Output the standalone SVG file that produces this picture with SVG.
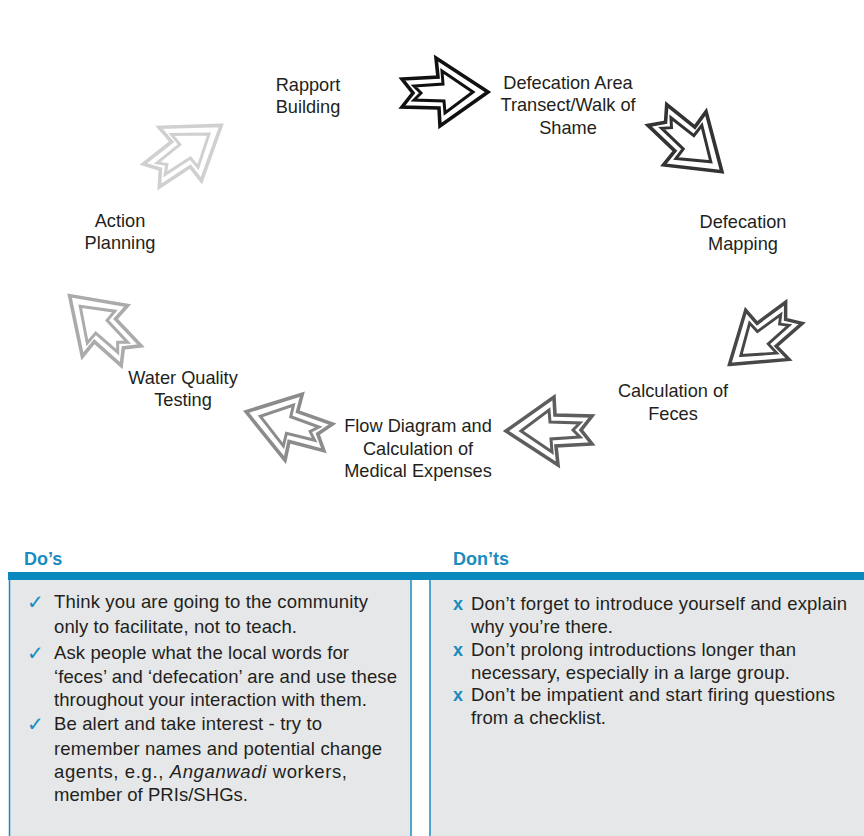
<svg xmlns="http://www.w3.org/2000/svg" xmlns:xlink="http://www.w3.org/1999/xlink" width="864" height="836" viewBox="0 0 864 836">
  <style>
    .lbl { font-family: "Liberation Sans", Arial, sans-serif; font-size: 18.2px; fill: #231f20; text-anchor: middle; }
    .hd { font-family: "Liberation Sans", Arial, sans-serif; font-size: 18px; font-weight: bold; fill: #1a8cc0; }
    .body { font-family: "Liberation Sans", Arial, sans-serif; font-size: 18.5px; fill: #231f20; }
    .tick { font-family: "DejaVu Sans", sans-serif; font-size: 20px; fill: #1a8cc0; }
    .cross { font-family: "Liberation Sans", Arial, sans-serif; font-size: 18px; font-weight: bold; fill: #1a8cc0; }
    .panel { fill: #e6e7e8; stroke: #1a8cc0; stroke-width: 1.5; }
    .arr { fill: none; stroke: currentColor; stroke-linejoin: miter; }
  </style>
  <defs>
    <!-- notched double-outline arrow, pointing along +x, centred on origin -->
    <g id="cycleArrow">
      <polygon class="arr" stroke-width="3.6" points="43,0 -9,-34 -7,-15 -43,-13 -32,1 -43,15 -6,16 -5,34"/>
      <polygon class="arr" stroke-width="3" points="28,0 -3,-21 -2,-8 -31,-6 -24,1 -31,8 -1,9 0,21"/>
    </g>
  </defs>

  <rect width="864" height="836" fill="#ffffff"/>

  <!-- cycle connectors -->
  <g id="connectors">
    <use xlink:href="#cycleArrow" href="#cycleArrow" style="color:#111111" transform="translate(445,92)"/>
    <use xlink:href="#cycleArrow" href="#cycleArrow" style="color:#333333" transform="translate(690,143) rotate(42)"/>
    <use xlink:href="#cycleArrow" href="#cycleArrow" style="color:#474747" transform="translate(762,339) rotate(142) scale(0.96)"/>
    <use xlink:href="#cycleArrow" href="#cycleArrow" style="color:#5e5e5e" transform="translate(549,431) rotate(180)"/>
    <use xlink:href="#cycleArrow" href="#cycleArrow" style="color:#8c8c8c" transform="translate(287,425) rotate(198)"/>
    <use xlink:href="#cycleArrow" href="#cycleArrow" style="color:#ababab" transform="translate(100,326) rotate(225)"/>
    <use xlink:href="#cycleArrow" href="#cycleArrow" style="color:#d0d0d0" transform="translate(186,150) rotate(-35)"/>
  </g>

  <!-- cycle steps -->
  <g id="rapport">
    <text class="lbl" x="308" y="91">Rapport</text>
    <text class="lbl" x="308" y="113">Building</text>
  </g>
  <g id="transect">
    <text class="lbl" x="568" y="89">Defecation Area</text>
    <text class="lbl" x="568" y="111">Transect/Walk of</text>
    <text class="lbl" x="568" y="134">Shame</text>
  </g>
  <g id="mapping">
    <text class="lbl" x="743" y="228">Defecation</text>
    <text class="lbl" x="743" y="250">Mapping</text>
  </g>
  <g id="feces">
    <text class="lbl" x="673" y="397">Calculation of</text>
    <text class="lbl" x="673" y="420">Feces</text>
  </g>
  <g id="flow">
    <text class="lbl" x="418" y="432">Flow Diagram and</text>
    <text class="lbl" x="418" y="455">Calculation of</text>
    <text class="lbl" x="418" y="477">Medical Expenses</text>
  </g>
  <g id="water">
    <text class="lbl" x="183" y="384">Water Quality</text>
    <text class="lbl" x="183" y="406">Testing</text>
  </g>
  <g id="action">
    <text class="lbl" x="120" y="227">Action</text>
    <text class="lbl" x="120" y="249">Planning</text>
  </g>

  <!-- do's and don'ts table -->
  <g id="table">
    <text class="hd" x="24" y="565">Do’s</text>
    <text class="hd" x="453" y="565">Don’ts</text>
    <rect x="9.5" y="578" width="401.5" height="262" class="panel"/>
    <rect x="430" y="578" width="440" height="262" class="panel"/>
    <rect x="8" y="572" width="856" height="8" fill="#0a89bf"/>
  </g>

  <g id="dos">
    <text class="tick" x="27" y="609">✓</text>
    <text class="body" x="54" y="608" textLength="314">Think you are going to the community</text>
    <text class="body" x="54" y="633" textLength="243">only to facilitate, not to teach.</text>
    <text class="tick" x="27" y="660">✓</text>
    <text class="body" x="54" y="659" textLength="295">Ask people what the local words for</text>
    <text class="body" x="54" y="683" textLength="343">‘feces’ and ‘defecation’ are and use these</text>
    <text class="body" x="54" y="706" textLength="313">throughout your interaction with them.</text>
    <text class="tick" x="27" y="731">✓</text>
    <text class="body" x="54" y="730" textLength="268">Be alert and take interest - try to</text>
    <text class="body" x="54" y="755" textLength="328">remember names and potential change</text>
    <text class="body" x="54" y="778" textLength="293">agents, e.g., <tspan font-style="italic">Anganwadi</tspan> workers,</text>
    <text class="body" x="54" y="801" textLength="194">member of PRIs/SHGs.</text>
  </g>

  <g id="donts">
    <text class="cross" x="453" y="610">x</text>
    <text class="body" x="471" y="610" textLength="376">Don’t forget to introduce yourself and explain</text>
    <text class="body" x="471" y="633" textLength="142">why you’re there.</text>
    <text class="cross" x="453" y="656">x</text>
    <text class="body" x="471" y="656" textLength="325">Don’t prolong introductions longer than</text>
    <text class="body" x="471" y="679" textLength="319">necessary, especially in a large group.</text>
    <text class="cross" x="453" y="701">x</text>
    <text class="body" x="471" y="701" textLength="364">Don’t be impatient and start firing questions</text>
    <text class="body" x="471" y="724" textLength="135">from a checklist.</text>
  </g>
</svg>
